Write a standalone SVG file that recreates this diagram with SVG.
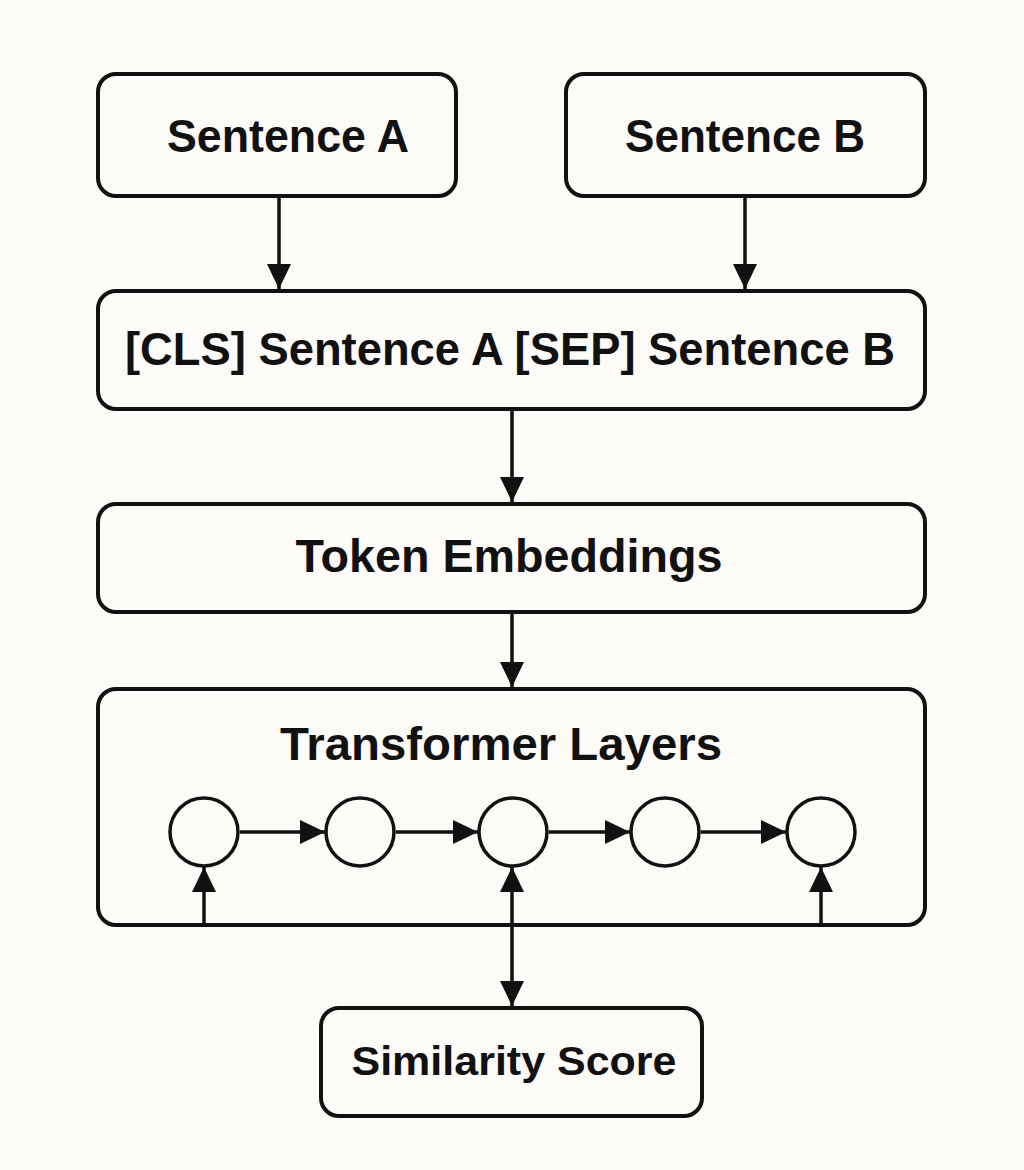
<svg xmlns="http://www.w3.org/2000/svg" width="1024" height="1170" viewBox="0 0 1024 1170">
<style>
.box{fill:#fcfbf8;stroke:#111;stroke-width:4}
.lbl{font-family:"Liberation Sans",Arial,sans-serif;font-weight:bold;fill:#111;text-anchor:middle}
.big{font-size:46px}
.small{font-size:41px}
.ln{stroke:#111;stroke-width:3.5;fill:none}
.cir{fill:#fcfbf8;stroke:#111;stroke-width:3.5}
</style>
<defs>
<marker id="ah" markerUnits="userSpaceOnUse" markerWidth="28" markerHeight="26" refX="25" refY="12" orient="auto">
<path d="M0,0 L25,12 L0,24 Z" fill="#111"/>
</marker>
<marker id="ahs" markerUnits="userSpaceOnUse" markerWidth="28" markerHeight="26" refX="0" refY="12" orient="auto">
<path d="M25,0 L0,12 L25,24 Z" fill="#111"/>
</marker>
</defs>
<rect width="1024" height="1170" fill="#fcfbf8"/>

<g id="node-sentence-a">
<rect class="box" x="98" y="74" width="358" height="122" rx="18"/>
<text class="lbl big" x="288" y="152" textLength="242" lengthAdjust="spacingAndGlyphs">Sentence A</text>
</g>
<g id="node-sentence-b">
<rect class="box" x="566" y="74" width="359" height="122" rx="18"/>
<text class="lbl big" x="745" y="152" textLength="240" lengthAdjust="spacingAndGlyphs">Sentence B</text>
</g>
<g id="node-input">
<rect class="box" x="98" y="291" width="827" height="118" rx="18"/>
<text class="lbl big" x="510" y="365" textLength="770" lengthAdjust="spacingAndGlyphs">[CLS] Sentence A [SEP] Sentence B</text>
</g>
<g id="node-token-embeddings">
<rect class="box" x="98" y="504" width="827" height="108" rx="18"/>
<text class="lbl big" x="509" y="572" textLength="427" lengthAdjust="spacingAndGlyphs">Token Embeddings</text>
</g>
<g id="node-transformer">
<rect class="box" x="98" y="689" width="827" height="236" rx="18"/>
<text class="lbl big" x="501" y="760" textLength="442" lengthAdjust="spacingAndGlyphs">Transformer Layers</text>
<circle class="cir" cx="204" cy="832" r="34"/>
<circle class="cir" cx="360" cy="832" r="34"/>
<circle class="cir" cx="513" cy="832" r="34"/>
<circle class="cir" cx="665" cy="832" r="34"/>
<circle class="cir" cx="821" cy="832" r="34"/>
</g>
<g id="node-similarity">
<rect class="box" x="321" y="1008" width="381" height="108" rx="18"/>
<text class="lbl small" x="514" y="1075" textLength="325" lengthAdjust="spacingAndGlyphs">Similarity Score</text>
</g>

<g id="connectors">
<line class="ln" x1="279" y1="198" x2="279" y2="289" marker-end="url(#ah)"/>
<line class="ln" x1="745" y1="198" x2="745" y2="289" marker-end="url(#ah)"/>
<line class="ln" x1="512" y1="411" x2="512" y2="502" marker-end="url(#ah)"/>
<line class="ln" x1="512" y1="614" x2="512" y2="687" marker-end="url(#ah)"/>
<line class="ln" x1="240" y1="832" x2="325" y2="832" marker-end="url(#ah)"/>
<line class="ln" x1="396" y1="832" x2="478" y2="832" marker-end="url(#ah)"/>
<line class="ln" x1="549" y1="832" x2="630" y2="832" marker-end="url(#ah)"/>
<line class="ln" x1="701" y1="832" x2="786" y2="832" marker-end="url(#ah)"/>
<line class="ln" x1="204" y1="924" x2="204" y2="867" marker-end="url(#ah)"/>
<line class="ln" x1="821" y1="924" x2="821" y2="867" marker-end="url(#ah)"/>
<line class="ln" x1="512" y1="867" x2="512" y2="1006" marker-start="url(#ahs)" marker-end="url(#ah)"/>
</g>
</svg>
